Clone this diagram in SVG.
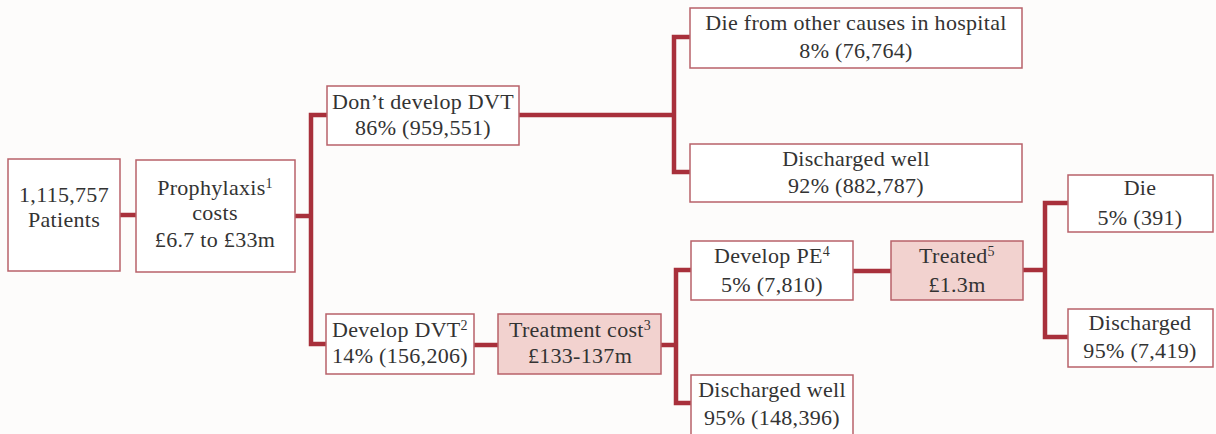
<svg xmlns="http://www.w3.org/2000/svg" width="1216" height="434" viewBox="0 0 1216 434">
<style>
.bg{fill:#fdfcfb}
.box{fill:#ffffff;stroke:#b8616a;stroke-width:1.5}
.cost{fill:#f2d2cf;stroke:#b8616a;stroke-width:1.5}
.t{font-family:"Liberation Serif","DejaVu Serif",serif;font-size:22px;letter-spacing:0.3px;fill:#333333;text-anchor:middle}
.sup{font-size:14px}
.conn{fill:none;stroke:#a8303b;stroke-width:4.5;stroke-linejoin:miter;stroke-linecap:butt}
</style>
<rect class="bg" x="0" y="0" width="1216" height="434"/>
<g id="connectors">
<path class="conn" d="M120,215 H136"/>
<path class="conn" d="M295,216 H311"/>
<path class="conn" d="M327,115 H311 V344 H326"/>
<path class="conn" d="M519,115 H674"/>
<path class="conn" d="M690,37 H674 V172 H690"/>
<path class="conn" d="M474,345 H498"/>
<path class="conn" d="M661,345 H676"/>
<path class="conn" d="M691,270 H676 V403 H691"/>
<path class="conn" d="M853,271 H891"/>
<path class="conn" d="M1023,270 H1045"/>
<path class="conn" d="M1068,203 H1045 V337 H1068"/>
</g>
<g id="patients">
<rect class="box" x="8" y="159" width="112" height="112"/>
<text class="t" x="64" y="202">1,115,757</text>
<text class="t" x="64" y="227">Patients</text>
</g>
<g id="prophylaxis">
<rect class="box" x="136" y="160" width="159" height="112"/>
<text class="t" x="215" y="195">Prophylaxis<tspan class="sup" dy="-7">1</tspan></text>
<text class="t" x="215" y="220">costs</text>
<text class="t" x="215" y="247">£6.7 to £33m</text>
</g>
<g id="no-dvt">
<rect class="box" x="327" y="86" width="192" height="59"/>
<text class="t" x="423" y="109">Don’t develop DVT</text>
<text class="t" x="423" y="135">86% (959,551)</text>
</g>
<g id="die-other">
<rect class="box" x="690" y="8" width="332" height="60"/>
<text class="t" x="856" y="30">Die from other causes in hospital</text>
<text class="t" x="856" y="58">8% (76,764)</text>
</g>
<g id="discharged-well-1">
<rect class="box" x="690" y="144" width="332" height="58"/>
<text class="t" x="856" y="166">Discharged well</text>
<text class="t" x="856" y="193">92% (882,787)</text>
</g>
<g id="dvt">
<rect class="box" x="326" y="314" width="148" height="60"/>
<text class="t" x="400" y="337">Develop DVT<tspan class="sup" dy="-7">2</tspan></text>
<text class="t" x="400" y="363">14% (156,206)</text>
</g>
<g id="treatment-cost">
<rect class="cost" x="498" y="314" width="163" height="60"/>
<text class="t" x="580" y="337">Treatment cost<tspan class="sup" dy="-7">3</tspan></text>
<text class="t" x="580" y="363">£133-137m</text>
</g>
<g id="pe">
<rect class="box" x="691" y="241" width="162" height="59"/>
<text class="t" x="772" y="263">Develop PE<tspan class="sup" dy="-7">4</tspan></text>
<text class="t" x="772" y="292">5% (7,810)</text>
</g>
<g id="treated">
<rect class="cost" x="891" y="241" width="132" height="59"/>
<text class="t" x="957" y="263">Treated<tspan class="sup" dy="-7">5</tspan></text>
<text class="t" x="957" y="292">£1.3m</text>
</g>
<g id="discharged-well-2">
<rect class="box" x="691" y="375" width="162" height="62"/>
<text class="t" x="772" y="397">Discharged well</text>
<text class="t" x="772" y="425">95% (148,396)</text>
</g>
<g id="die">
<rect class="box" x="1068" y="175" width="145" height="57"/>
<text class="t" x="1140" y="195">Die</text>
<text class="t" x="1140" y="225">5% (391)</text>
</g>
<g id="discharged">
<rect class="box" x="1068" y="309" width="145" height="58"/>
<text class="t" x="1140" y="330">Discharged</text>
<text class="t" x="1140" y="358">95% (7,419)</text>
</g>
</svg>
